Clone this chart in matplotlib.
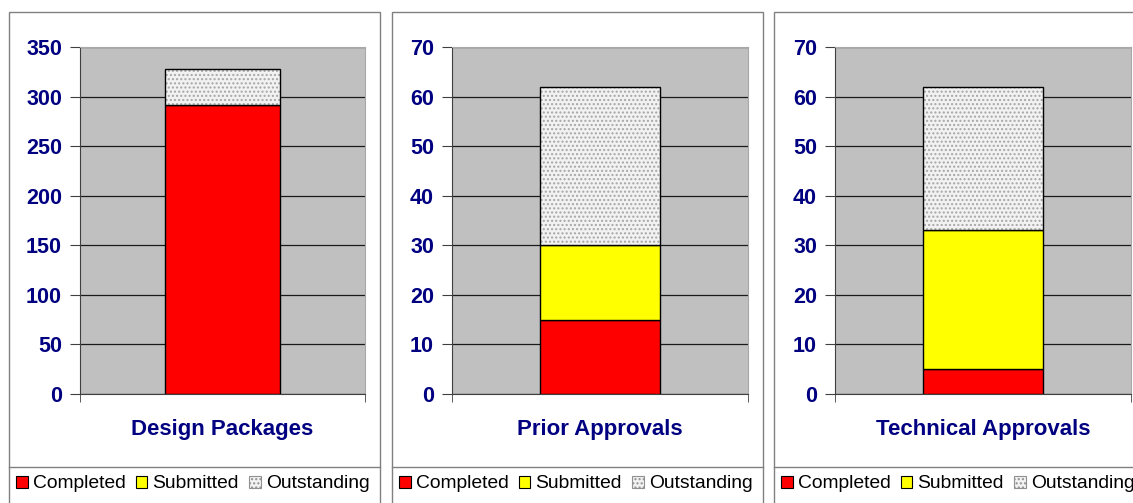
import matplotlib
matplotlib.use("Agg")
import matplotlib.pyplot as plt
from matplotlib.patches import Rectangle, Patch
from matplotlib.lines import Line2D

plt.rcParams['font.family'] = ['Liberation Sans', 'DejaVu Sans']
plt.rcParams['hatch.linewidth'] = 1.0

categories = ["Design Packages", "Prior Approvals", "Technical Approvals"]
series_names = ["Completed", "Submitted", "Outstanding"]
completed = [292, 15, 5]
submitted = [0, 15, 28]
outstanding = [36, 32, 29]
y_max = [350, 70, 70]
y_step = [50, 10, 10]

W, H = 1133, 503
fig = plt.figure(figsize=(W / 100, H / 100), dpi=100)
fig.patch.set_facecolor("white")

# panel geometry in pixels: (box_left, box_right, axis_left, axis_right)
panels = [(9, 380, 80, 365), (392, 763, 452, 748), (774, 1146, 835, 1131)]
ax_top, ax_bot = 47, 394
box_top, sep_y = 12, 467

navy = "#000080"
red = "#FF0000"
yellow = "#FFFF00"
gray_bg = "#C0C0C0"

for i, (bl, br, al, ar) in enumerate(panels):
    # outer box
    fig.patches.append(Rectangle((bl / W, -0.05), (br - bl) / W, 1.05 - box_top / H,
                                 transform=fig.transFigure, fill=False,
                                 edgecolor="#808080", linewidth=1.0, zorder=0))
    fig.lines.append(Line2D([bl / W, br / W], [1 - sep_y / H, 1 - sep_y / H],
                            transform=fig.transFigure, color="#808080", linewidth=1.0))

    ax = fig.add_axes([al / W, 1 - ax_bot / H, (ar - al) / W, (ax_bot - ax_top) / H])
    ax.set_facecolor(gray_bg)
    ax.set_xlim(-0.5, 0.5)
    ax.set_ylim(0, y_max[i])
    ax.set_yticks(range(0, y_max[i] + 1, y_step[i]))
    ax.yaxis.grid(True, color="#1a1a1a", linewidth=0.9)
    ax.set_axisbelow(True)

    w = 0.405
    x = [0]
    ax.bar(x, [completed[i]], width=w, color=red, edgecolor="black", linewidth=1.0, zorder=3)
    ax.bar(x, [submitted[i]], bottom=[completed[i]], width=w, color=yellow,
           edgecolor="black", linewidth=1.0 if submitted[i] > 0 else 0, zorder=3)
    base = completed[i] + submitted[i]
    ax.bar(x, [outstanding[i]], bottom=[base], width=w, color="#F2F2F2",
           edgecolor="#a6a6a6", hatch="....", linewidth=0, zorder=3)
    ax.bar(x, [outstanding[i]], bottom=[base], width=w, fill=False,
           edgecolor="black", linewidth=1.0, zorder=4)

    ax.set_xticks([0], [categories[i]])
    ax.tick_params(axis="x", length=0, pad=18, labelsize=16, labelcolor=navy)
    for lab in ax.get_xticklabels():
        lab.set_fontweight("bold")
    ax.set_xticks([-0.5, 0.5], minor=True)
    ax.tick_params(axis="x", which="minor", length=6, direction="out", color="#404040")

    ax.tick_params(axis="y", length=7, direction="out", pad=6, labelsize=15.5,
                   labelcolor=navy, color="#404040")
    for lab in ax.get_yticklabels():
        lab.set_fontweight("bold")

    ax.spines["left"].set_color("#404040")
    ax.spines["bottom"].set_color("#404040")
    ax.spines["top"].set_color("#A8A8A8")
    ax.spines["right"].set_color("#A8A8A8")

    handles = [Patch(facecolor=red, edgecolor="black", linewidth=0.8),
               Patch(facecolor=yellow, edgecolor="black", linewidth=0.8),
               Patch(facecolor="#F2F2F2", edgecolor="#909090", hatch="....", linewidth=0.8)]
    fig.legend(handles, series_names, loc="center left",
               bbox_to_anchor=((bl + 7) / W, 1 - 484 / H), ncol=3, frameon=False,
               fontsize=13.85, handlelength=0.6, handleheight=0.6, handletextpad=0.26,
               columnspacing=0.55, borderpad=0, borderaxespad=0)

fig.savefig("out.png", dpi=100, facecolor="white")
